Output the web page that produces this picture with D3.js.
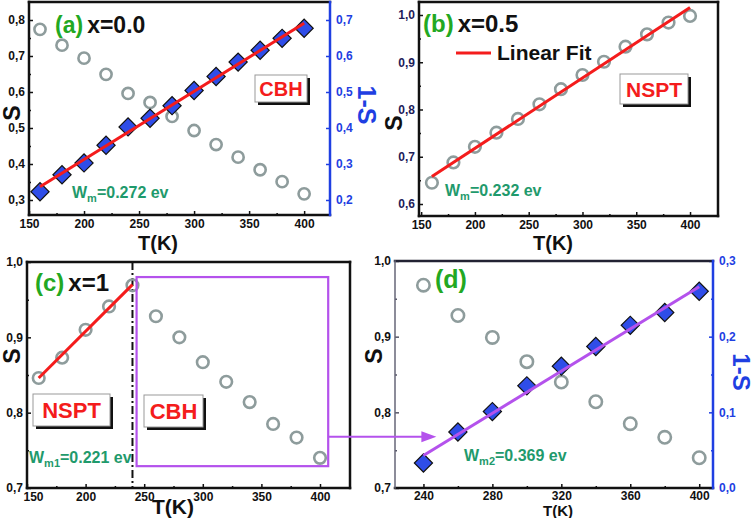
<!DOCTYPE html>
<html><head><meta charset="utf-8">
<script src="https://cdn.jsdelivr.net/npm/d3@7"></script>
<style>
body{margin:0;background:#fff}
svg{display:block}
text{font-family:"Liberation Sans",Arial,Helvetica,sans-serif;font-weight:bold}
</style>
</head><body>
<svg id="chart" width="756" height="518"></svg>
<script>
// ---------- data ----------
const T_full = [160,180,200,220,240,260,280,300,320,340,360,380,400];
const S_a = [0.774,0.730,0.694,0.649,0.596,0.571,0.532,0.493,0.454,0.419,0.384,0.351,0.317];
const oneMinusS_a = [0.223,0.270,0.303,0.352,0.403,0.427,0.462,0.504,0.543,0.583,0.616,0.649,0.677];
const fitT_a = [160,400];
const fit_a = [0.237,0.691];

const S_b = [0.645,0.688,0.721,0.751,0.780,0.811,0.843,0.873,0.901,0.933,0.959,0.984,0.998];
const fitT_b = [160,400];
const fit_b = [0.658,1.016];

const S_c = [0.846,0.873,0.910,0.941,0.969,0.928,0.900,0.867,0.841,0.814,0.785,0.767,0.740];
const fitT_c = [160,240];
const fit_c = [0.846,0.970];

const T_d = [240,260,280,300,320,340,360,380,400];
const S_d = [0.968,0.928,0.899,0.867,0.840,0.814,0.785,0.767,0.740];
const oneMinusS_d = [0.033,0.074,0.101,0.135,0.161,0.187,0.215,0.232,0.260];
const fitT_d = [240,400];
const fit_d = [0.043,0.266];

const xTicks = [150,200,250,300,350,400];
const xMinor = [175,225,275,325,375];
const xTicks_d = [240,280,320,360,400];
const xMinor_d = [260,300,340,380];
const yTicks_a = [0.3,0.4,0.5,0.6,0.7,0.8];
const yMinor_a = [0.35,0.45,0.55,0.65,0.75];
const yTicksR_a = [0.2,0.3,0.4,0.5,0.6,0.7];
const yTicks_b = [0.6,0.7,0.8,0.9,1.0];
const yMinor_b = [0.65,0.75,0.85,0.95];
const yTicks_cd = [0.7,0.8,0.9,1.0];
const yMinor_cd = [0.75,0.85,0.95];
const yTicksR_d = [0.0,0.1,0.2,0.3];

// ---------- styles ----------
const RED = "#f41c1c", GREEN = "#22a822", TEAL = "#1f9a6c", BLUE = "#1f3fe2",
      GREY = "#8e9c9c", PURPLE = "#b452ec", DIAM = "#2f4de8";
const fmt = v => d3.format(".1f")(v).replace(".", ",");
const svg = d3.select("#chart");

function frame(g, x0, x1, y0, y1, col) {
  const seg = (a,b,c,d,color,w) => g.append("line").attr("x1",a).attr("y1",b).attr("x2",c).attr("y2",d)
    .attr("stroke",color).attr("stroke-width",w).attr("stroke-linecap","square");
  seg(x0,y0,x1,y0,col.top||"#111",col.topW||2.5);
  seg(x0,y1,x1,y1,col.bottom||"#111",2.5);
  seg(x0,y0,x0,y1,col.left||"#111",col.leftW||2.5);
  seg(x1,y0,x1,y1,col.right||"#111",2.5);
}
function xAxis(g, x, yPix, ticks, minors, firstShift, pad) {
  const a = g.append("g").attr("transform",`translate(0,${yPix})`)
    .call(d3.axisBottom(x).tickValues(ticks).tickSize(-4).tickSizeOuter(0).tickPadding(pad||4).tickFormat(d3.format("d")));
  a.select(".domain").remove();
  a.selectAll("text").attr("font-size",12).attr("fill","#111").attr("font-family",null);
  if (firstShift) a.select(".tick text").attr("dx", firstShift);
  a.selectAll("line").attr("stroke","#111").attr("stroke-width",1.5);
  const m = g.append("g").attr("transform",`translate(0,${yPix})`)
    .call(d3.axisBottom(x).tickValues(minors).tickSize(-2).tickSizeOuter(0).tickFormat(""));
  m.select(".domain").remove();
  m.selectAll("line").attr("stroke","#111").attr("stroke-width",1.5);
}
function yAxis(g, y, xPix, ticks, minors, side, color, tcolor) {
  const gen = side === "left" ? d3.axisLeft : d3.axisRight;
  const a = g.append("g").attr("transform",`translate(${xPix},0)`)
    .call(gen(y).tickValues(ticks).tickSize(-4).tickSizeOuter(0).tickPadding(side==="left"?4:6).tickFormat(fmt));
  a.select(".domain").remove();
  a.selectAll("text").attr("font-size",12).attr("fill",tcolor).attr("font-family",null);
  a.selectAll("line").attr("stroke",color).attr("stroke-width",1.5);
  if (minors) {
    const m = g.append("g").attr("transform",`translate(${xPix},0)`)
      .call(gen(y).tickValues(minors).tickSize(-2).tickSizeOuter(0).tickFormat(""));
    m.select(".domain").remove();
    m.selectAll("line").attr("stroke",color).attr("stroke-width",1.5);
  }
}
function circles(g, xs, ys, x, y, r) {
  g.append("g").selectAll("circle").data(xs).join("circle")
    .attr("cx",(d)=>x(d)).attr("cy",(d,i)=>y(ys[i])).attr("r",r)
    .attr("fill","none").attr("stroke",GREY).attr("stroke-width",2.6);
}
function diamonds(g, xs, ys, x, y) {
  const sym = d3.symbol(d3.symbolSquare, 165);
  g.append("g").selectAll("path").data(xs).join("path")
    .attr("d",sym).attr("transform",(d,i)=>`translate(${x(d)},${y(ys[i])}) rotate(45)`)
    .attr("fill",DIAM).attr("stroke","#111").attr("stroke-width",1.2);
}
function fitLine(g, xs, ys, x, y, color) {
  g.append("path").datum(xs)
    .attr("d", d3.line().x(d=>x(d)).y((d,i)=>y(ys[i])))
    .attr("stroke",color).attr("stroke-width",3).attr("fill","none");
}
function boxLabel(g, x0, y0, w, h, txt, fs) {
  g.append("rect").attr("x",x0+3).attr("y",y0+3).attr("width",w).attr("height",h).attr("fill","#111");
  g.append("rect").attr("x",x0).attr("y",y0).attr("width",w).attr("height",h).attr("fill","#fff")
    .attr("stroke","#999").attr("stroke-width",1);
  g.append("text").attr("x",x0+w/2).attr("y",y0+h/2).attr("text-anchor","middle")
    .attr("dominant-baseline","central").attr("font-size",fs).attr("fill",RED).text(txt);
}
function wText(g, x0, y0, sub, rest) {
  const t = g.append("text").attr("x",x0).attr("y",y0).attr("font-size",16).attr("fill",TEAL);
  t.append("tspan").text("W");
  t.append("tspan").attr("font-size",11).attr("dy",4).text(sub);
  t.append("tspan").attr("dy",-4).text(rest);
}
function title(g, x0, y0, lab, rest, fs) {
  const t = g.append("text").attr("x",x0).attr("y",y0).attr("font-size",fs);
  t.append("tspan").attr("fill",GREEN).text(lab);
  if (rest) t.append("tspan").attr("fill","#111").attr("dx",4).text(rest);
}
function axisTitle(g, cx, cy, txt, rot, fs, color) {
  g.append("text").attr("transform",`translate(${cx},${cy}) rotate(${rot})`)
    .attr("text-anchor","middle").attr("dominant-baseline","central")
    .attr("font-size",fs).attr("fill",color).text(txt);
}

// ---------- panel (a) ----------
{
  const g = svg.append("g");
  const x = d3.scaleLinear().domain([150,423.5]).range([29,330]);
  const y = d3.scaleLinear().domain([0.2583,0.85]).range([215,2]);
  const yR = d3.scaleLinear().domain([0.1583,0.75]).range([215,2]);
  xAxis(g, x, 215, xTicks, xMinor);
  yAxis(g, y, 29, yTicks_a, yMinor_a, "left", "#111", "#111");
  yAxis(g, yR, 330, yTicksR_a, null, "right", BLUE, BLUE);
  frame(g, 29, 330, 2, 215, {right: BLUE});
  circles(g, T_full, S_a, x, y, 5.6);
  diamonds(g, T_full, oneMinusS_a, x, yR);
  fitLine(g, fitT_a, fit_a, x, yR, RED);
  title(g, 55, 33, "(a)", "x=0.0", 23);
  boxLabel(g, 255, 75, 52, 27, "CBH", 20);
  wText(g, 72, 198, "m", "=0.272 ev");
  axisTitle(g, 12, 113, "S", -90, 23, "#111");
  axisTitle(g, 367, 105, "1-S", 90, 25, BLUE);
  g.append("text").attr("x",158).attr("y",250).attr("text-anchor","middle").attr("font-size",20).attr("fill","#111").text("T(K)");
}

// ---------- panel (b) ----------
{
  const g = svg.append("g");
  const x = d3.scaleLinear().domain([148,426]).range([419,718]);
  const y = d3.scaleLinear().domain([0.5746,1.0275]).range([216,2]);
  xAxis(g, x, 216, xTicks, xMinor);
  yAxis(g, y, 419, yTicks_b, yMinor_b, "left", "#111", "#1c1c5a");
  frame(g, 419, 718, 2, 216, {});
  circles(g, T_full, S_b, x, y, 5.8);
  fitLine(g, fitT_b, fit_b, x, y, RED);
  title(g, 423, 32, "(b)", "x=0.5", 24);
  g.append("line").attr("x1",456).attr("x2",491).attr("y1",53).attr("y2",53).attr("stroke",RED).attr("stroke-width",3);
  g.append("text").attr("x",497).attr("y",60).attr("font-size",21).attr("fill","#111").text("Linear Fit");
  boxLabel(g, 620, 74, 68, 30, "NSPT", 21);
  wText(g, 445, 196, "m", "=0.232 ev");
  axisTitle(g, 394, 123, "S", -90, 23, "#111");
  g.append("text").attr("x",553).attr("y",250).attr("text-anchor","middle").attr("font-size",20).attr("fill","#111").text("T(K)");
}

// ---------- panel (c) ----------
let rectC;
{
  const g = svg.append("g");
  const x = d3.scaleLinear().domain([150,425.6]).range([27,350]);
  const y = d3.scaleLinear().domain([0.7,1.0]).range([488,262]);
  xAxis(g, x, 488, xTicks, xMinor, 6);
  yAxis(g, y, 27, yTicks_cd, yMinor_cd, "left", "#111", "#111");
  frame(g, 27, 350, 262, 488, {});
  g.append("line").attr("x1",x(240)).attr("x2",x(240)).attr("y1",262).attr("y2",488)
    .attr("stroke","#111").attr("stroke-width",2).attr("stroke-dasharray","8,3,2,3");
  circles(g, T_full, S_c, x, y, 5.8);
  fitLine(g, fitT_c, fit_c, x, y, RED);
  rectC = {x0:x(243.5), x1:x(407), y0:y(0.980), y1:y(0.729), ya:y(0.768)};
  g.append("rect").attr("x",rectC.x0).attr("y",rectC.y0).attr("width",rectC.x1-rectC.x0).attr("height",rectC.y1-rectC.y0)
    .attr("fill","none").attr("stroke",PURPLE).attr("stroke-width",2.2);
  title(g, 35, 291, "(c)", "x=1", 24);
  boxLabel(g, 33, 394, 77, 32, "NSPT", 22);
  boxLabel(g, 144, 395, 59, 32, "CBH", 22);
  wText(g, 29, 463, "m1", "=0.221 ev");
  axisTitle(g, 12, 356, "S", -90, 23, "#111");
  g.append("text").attr("x",173).attr("y",514).attr("text-anchor","middle").attr("font-size",21).attr("fill","#111").text("T(K)");
}

// ---------- panel (d) ----------
{
  const g = svg.append("g");
  const x = d3.scaleLinear().domain([223.5,408]).range([395,713]);
  const y = d3.scaleLinear().domain([0.7,1.0]).range([488,261]);
  const yR = d3.scaleLinear().domain([0.0,0.3]).range([488,261]);
  xAxis(g, x, 488, xTicks_d, xMinor_d, 0, 3);
  yAxis(g, y, 395, yTicks_cd, yMinor_cd, "left", "#556", "#111");
  yAxis(g, yR, 713, yTicksR_d, [0.05,0.15,0.25], "right", BLUE, BLUE);
  frame(g, 395, 713, 261, 488, {left:"#667", leftW:1.5, top:"#223", right:BLUE});
  circles(g, T_d, S_d, x, y, 6.2);
  diamonds(g, T_d, oneMinusS_d, x, yR);
  fitLine(g, fitT_d, fit_d, x, yR, PURPLE);
  title(g, 435, 288, "(d)", null, 25);
  wText(g, 464, 461, "m2", "=0.369 ev");
  axisTitle(g, 374, 356, "S", -90, 23, "#111");
  axisTitle(g, 741, 372, "1-S", 90, 24, BLUE);
  g.append("text").attr("x",558).attr("y",515.5).attr("text-anchor","middle").attr("font-size",15).attr("fill","#111").text("T(K)");
  // arrow from rectangle in (c) to panel (d)
  const ax1 = x(247.5);
  svg.append("line").attr("x1",rectC.x1).attr("x2",ax1-12).attr("y1",rectC.ya).attr("y2",rectC.ya)
    .attr("stroke",PURPLE).attr("stroke-width",2.2);
  svg.append("path").attr("d",`M${ax1},${rectC.ya} L${ax1-15},${rectC.ya-5.5} L${ax1-15},${rectC.ya+5.5} Z`).attr("fill",PURPLE);
}
</script>
</body></html>
